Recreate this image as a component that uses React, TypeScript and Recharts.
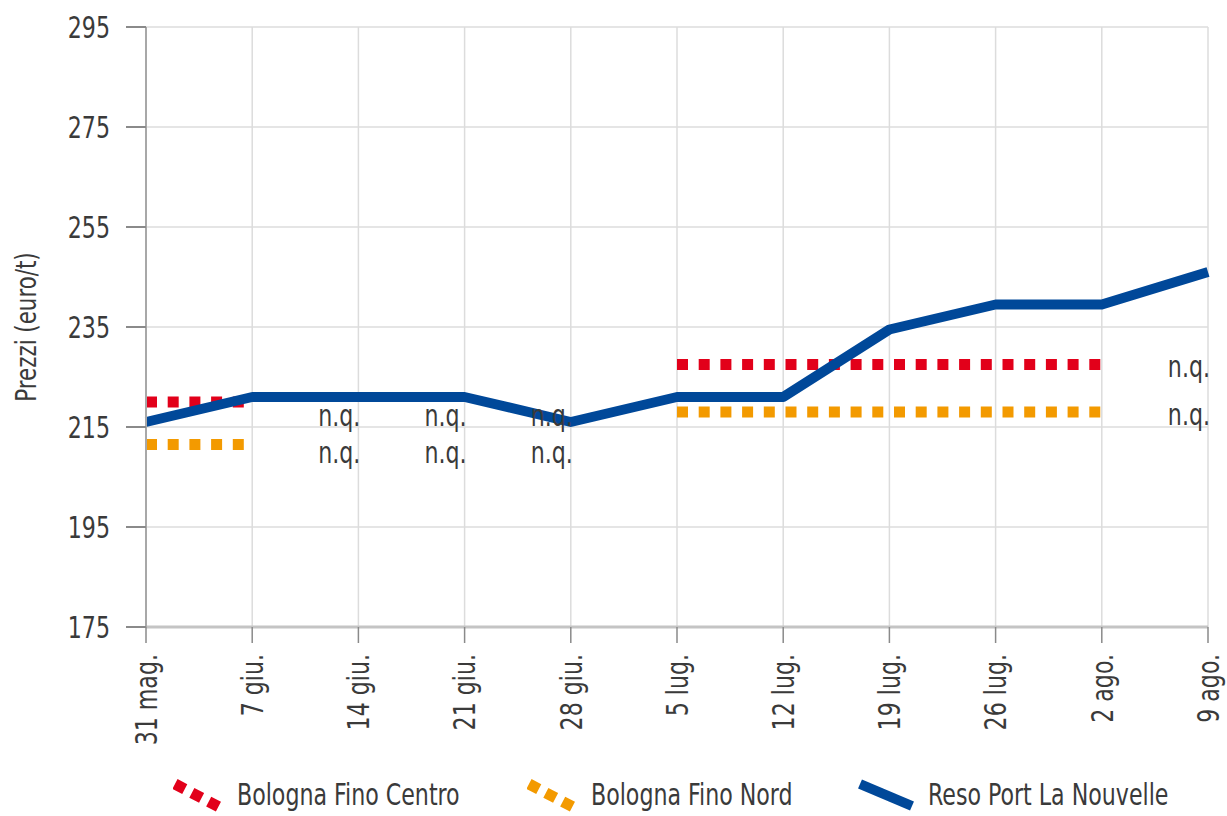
import {
  LineChart, Line, XAxis, YAxis, CartesianGrid, ReferenceDot,
} from "recharts"

const weeks = [
  "31 mag.", "7 giu.", "14 giu.", "21 giu.", "28 giu.", "5 lug.",
  "12 lug.", "19 lug.", "26 lug.", "2 ago.", "9 ago.",
]

// prezzi euro/t, null = non quotato
const finoCentro = [220, 220, null, null, null, 227.5, 227.5, 227.5, 227.5, 227.5, null]
const finoNord = [211.5, 211.5, null, null, null, 218, 218, 218, 218, 218, null]
const portLaNouvelle = [216, 221, 221, 221, 216, 221, 221, 234.5, 239.5, 239.5, 246]

const yTicks = [175, 195, 215, 235, 255, 275, 295]

// dove compare la scritta "n.q."
const nqMarks = [
  { week: "14 giu.", value: 217.4 },
  { week: "14 giu.", value: 210 },
  { week: "21 giu.", value: 217.4 },
  { week: "21 giu.", value: 210 },
  { week: "28 giu.", value: 217.4 },
  { week: "28 giu.", value: 210 },
  { week: "9 ago.", value: 227.2 },
  { week: "9 ago.", value: 217.6 },
]

const FONT = "'DejaVu Sans Condensed', 'DejaVu Sans', sans-serif"
const SX = 0.82 // font stretto come nell'originale
const TEXT = "#3a3a3a"
const RED = "#e2001a"
const ORANGE = "#f39a00"
const BLUE = "#004899"

const data = weeks.map((w, i) => ({
  week: w,
  centro: finoCentro[i],
  nord: finoNord[i],
  reso: portLaNouvelle[i],
}))

function NarrowText({ x, y, angle = 0, anchor = "end", size = 30, children }: any) {
  return (
    <text
      transform={`translate(${x}, ${y}) rotate(${angle}) scale(${SX}, 1)`}
      textAnchor={anchor}
      dy="0.36em"
      fontSize={size}
      fontFamily={FONT}
      fill={TEXT}
    >
      {children}
    </text>
  )
}

function XTick(props: any) {
  const { x, y, payload } = props
  return <NarrowText x={x} y={y} angle={-90}>{payload.value}</NarrowText>
}

function YTick(props: any) {
  const { x, y, payload } = props
  return <NarrowText x={x} y={y}>{payload.value}</NarrowText>
}

function YTitle(props: any) {
  const vb = props.viewBox || { y: 27, height: 600 }
  return (
    <NarrowText x={26} y={vb.y + vb.height / 2} angle={-90} anchor="middle" size={29}>
      Prezzi (euro/t)
    </NarrowText>
  )
}

function NqLabel(props: any) {
  const vb = props.viewBox || {}
  const cx = (vb.x ?? 0) + (vb.width ?? 0) / 2
  const cy = (vb.y ?? 0) + (vb.height ?? 0) / 2
  return <NarrowText x={cx + 2} y={cy}>n.q.</NarrowText>
}

function LegendItem({ left, color, dashed, label }: { left: number; color: string; dashed: boolean; label: string }) {
  return (
    <div style={{ position: "absolute", left, top: 778, display: "flex", alignItems: "center", whiteSpace: "nowrap" }}>
      <svg width={56} height={34}>
        {dashed ? (
          <line x1={2} y1={6} x2={48} y2={30} stroke={color} strokeWidth={11} strokeDasharray="11 8" />
        ) : (
          <line x1={2} y1={6} x2={54} y2={28} stroke={BLUE} strokeWidth={10} />
        )}
      </svg>
      <span
        style={{
          marginLeft: dashed ? 8 : 14,
          fontSize: 30,
          fontFamily: FONT,
          color: TEXT,
          lineHeight: "34px",
          display: "inline-block",
          transform: `scaleX(${SX})`,
          transformOrigin: "left center",
        }}
      >
        {label}
      </span>
    </div>
  )
}

export default function App() {
  return (
    <div style={{ position: "absolute", left: 0, top: 0, width: 1227, height: 816, background: "#fff", overflow: "hidden" }}>
      <LineChart
        width={1227}
        height={816}
        data={data}
        margin={{ top: 27, right: 19, left: 0, bottom: 89 }}
      >
        <CartesianGrid stroke="#dcdcdc" strokeWidth={1.5} />
        <XAxis
          dataKey="week"
          height={100}
          interval={0}
          tick={<XTick />}
          tickSize={16}
          tickMargin={11}
          axisLine={{ stroke: "#c4c4c4", strokeWidth: 3 }}
          tickLine={{ stroke: "#8a8a8a", strokeWidth: 1.5 }}
        />
        <YAxis
          width={146}
          domain={[175, 295]}
          ticks={yTicks}
          interval={0}
          tickSize={20}
          tickMargin={16}
          axisLine={{ stroke: "#a8a8a8", strokeWidth: 2 }}
          tickLine={{ stroke: "#8a8a8a", strokeWidth: 2 }}
          tick={<YTick />}
          label={<YTitle />}
        />
        <Line
          dataKey="centro"
          stroke={RED}
          strokeWidth={11}
          strokeDasharray="11 10.7"
          dot={false}
          activeDot={false}
          isAnimationActive={false}
        />
        <Line
          dataKey="nord"
          stroke={ORANGE}
          strokeWidth={11}
          strokeDasharray="11 10.7"
          dot={false}
          activeDot={false}
          isAnimationActive={false}
        />
        <Line
          dataKey="reso"
          stroke={BLUE}
          strokeWidth={10}
          strokeLinejoin="round"
          dot={false}
          activeDot={false}
          isAnimationActive={false}
        />
        {nqMarks.map((m, i) => (
          <ReferenceDot
            key={i}
            x={m.week}
            y={m.value}
            r={1}
            fill="none"
            stroke="none"
            label={<NqLabel />}
          />
        ))}
      </LineChart>
      <LegendItem left={173} color={RED} dashed label="Bologna Fino Centro" />
      <LegendItem left={527} color={ORANGE} dashed label="Bologna Fino Nord" />
      <LegendItem left={858} color={BLUE} dashed={false} label="Reso Port La Nouvelle" />
    </div>
  )
}
